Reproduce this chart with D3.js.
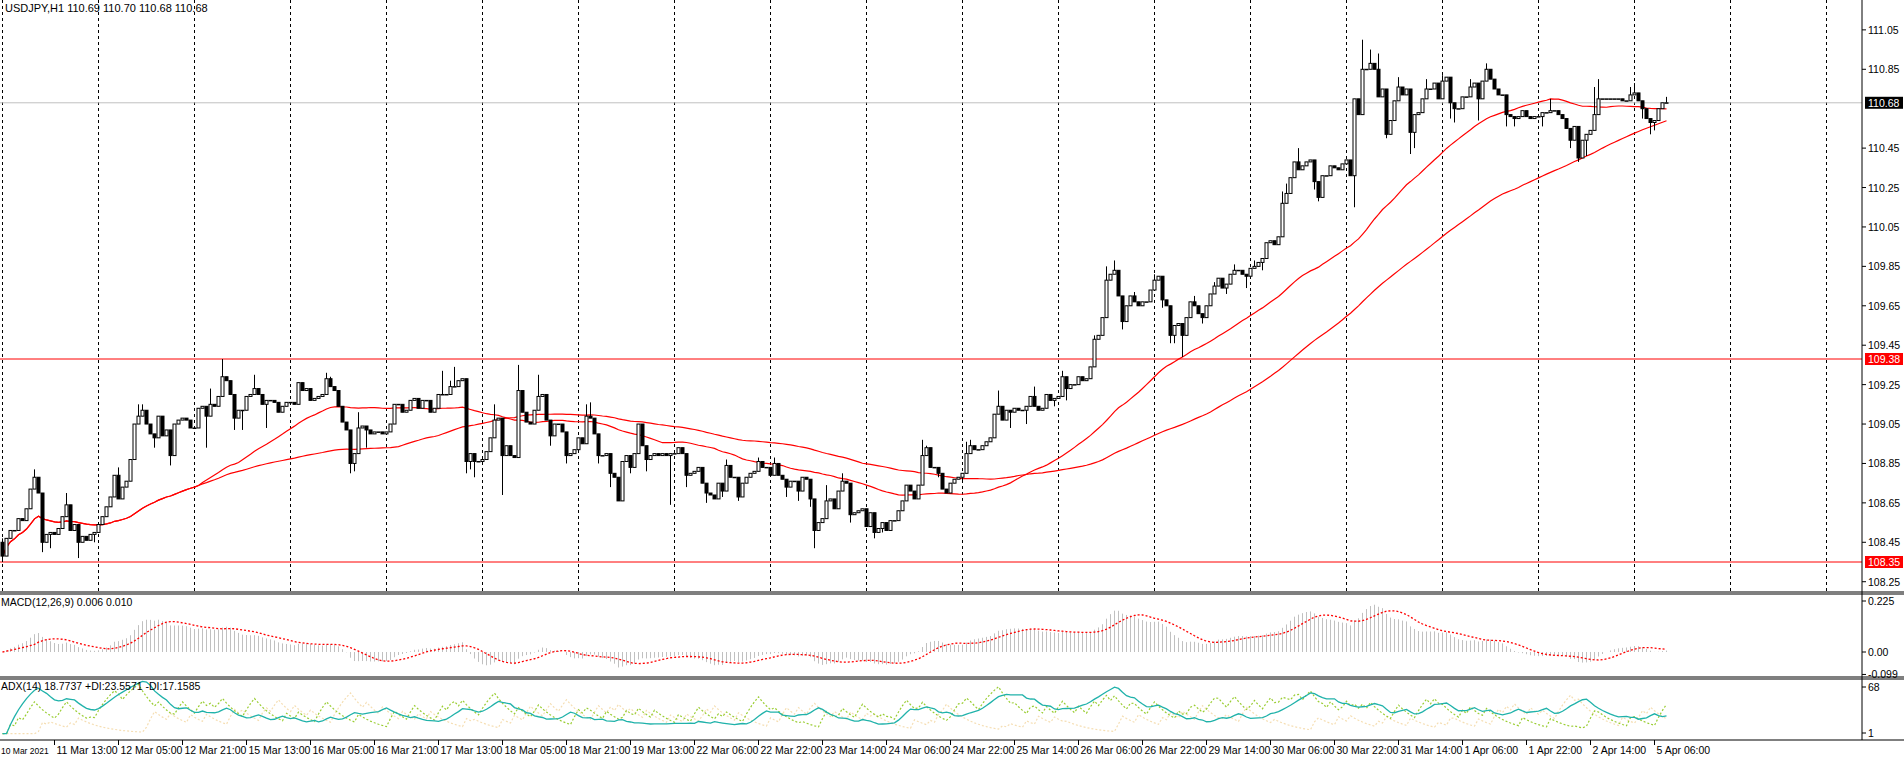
<!DOCTYPE html>
<html>
<head>
<meta charset="utf-8">
<script src="https://cdn.jsdelivr.net/npm/d3@7"></script>
<style>
  body { margin: 0; background: #fff; overflow: hidden; }
  svg { display: block; font-family: 'Liberation Sans', Arial, sans-serif; }
</style>
</head>
<body>
<svg id="chart" width="1904" height="760"></svg>
<script>
// hourly closes, USDJPY H1, 11 Mar 00:00 -> 5 Apr
const closes = [
  108.38,108.47,108.51,108.51,108.57,108.56,108.62,108.72,108.78,108.70,108.45,108.49,108.50,108.49,108.52,108.58,
  108.64,108.51,108.54,108.45,108.48,108.46,108.49,108.50,108.54,108.58,108.63,108.68,108.79,108.67,108.73,108.76,
  108.87,109.05,109.09,109.12,109.05,109.00,108.98,109.09,108.99,109.02,108.89,109.05,109.07,109.08,109.07,109.03,
  109.03,109.13,109.14,109.09,109.15,109.14,109.19,109.29,109.27,109.20,109.08,109.12,109.12,109.19,109.20,109.23,
  109.20,109.15,109.17,109.17,109.16,109.11,109.14,109.16,109.16,109.15,109.26,109.22,109.23,109.17,109.18,109.19,
  109.20,109.28,109.24,109.22,109.14,109.06,109.02,108.85,108.90,109.03,109.04,109.02,109.00,109.01,109.01,109.00,
  109.01,109.05,109.15,109.15,109.11,109.12,109.17,109.18,109.13,109.17,109.17,109.11,109.13,109.20,109.20,109.20,
  109.24,109.24,109.27,109.28,108.86,108.90,108.86,108.86,108.87,108.91,108.98,109.07,109.08,108.89,108.94,108.89,
  108.88,109.22,109.11,109.06,109.05,109.12,109.19,109.20,109.07,108.99,109.05,109.05,109.01,108.89,108.90,108.92,
  108.98,108.95,109.09,109.08,109.00,108.89,108.89,108.90,108.80,108.78,108.66,108.86,108.89,108.83,108.90,109.05,
  108.94,108.87,108.89,108.90,108.89,108.90,108.89,108.90,108.90,108.93,108.90,108.79,108.80,108.81,108.83,108.75,
  108.70,108.69,108.67,108.75,108.71,108.84,108.78,108.78,108.68,108.75,108.78,108.80,108.81,108.86,108.83,108.83,
  108.79,108.85,108.79,108.77,108.73,108.76,108.76,108.71,108.78,108.77,108.67,108.51,108.55,108.57,108.66,108.67,
  108.62,108.71,108.76,108.75,108.59,108.60,108.61,108.62,108.53,108.60,108.50,108.52,108.55,108.51,108.56,108.56,
  108.61,108.66,108.74,108.71,108.67,108.74,108.89,108.93,108.83,108.83,108.80,108.72,108.70,108.75,108.77,108.78,
  108.80,108.90,108.94,108.92,108.92,108.94,108.96,108.98,109.10,109.14,109.07,109.12,109.11,109.13,109.12,109.12,
  109.14,109.19,109.14,109.12,109.13,109.20,109.17,109.18,109.19,109.29,109.23,109.25,109.25,109.29,109.27,109.28,
  109.34,109.48,109.50,109.59,109.78,109.81,109.83,109.70,109.57,109.65,109.70,109.67,109.65,109.67,109.67,109.73,
  109.78,109.80,109.68,109.65,109.50,109.55,109.56,109.50,109.59,109.67,109.65,109.61,109.59,109.65,109.71,109.75,
  109.79,109.74,109.76,109.81,109.83,109.83,109.81,109.80,109.84,109.85,109.87,109.89,109.97,109.98,109.96,110.00,
  110.17,110.22,110.30,110.38,110.34,110.36,110.38,110.39,110.28,110.20,110.31,110.31,110.36,110.35,110.34,110.37,
  110.39,110.31,110.70,110.62,110.85,110.85,110.88,110.85,110.71,110.75,110.52,110.59,110.69,110.76,110.72,110.75,
  110.53,110.62,110.63,110.70,110.75,110.75,110.78,110.70,110.79,110.81,110.68,110.65,110.65,110.71,110.71,110.76,
  110.78,110.70,110.79,110.85,110.80,110.75,110.72,110.72,110.62,110.61,110.60,110.61,110.64,110.61,110.60,110.61,
  110.61,110.63,110.63,110.64,110.64,110.62,110.60,110.55,110.49,110.56,110.40,110.49,110.52,110.54,110.62,110.70,
  110.70,110.70,110.70,110.70,110.70,110.69,110.69,110.72,110.73,110.69,110.65,110.60,110.58,110.59,110.65,110.68,
  110.68
];
const firstOpen = 108.45;

// notable wicks [bar, price]
const highWicks = [
  [0,108.47],[8,108.82],[16,108.70],[29,108.83],[34,109.15],[35,109.15],[52,109.23],[55,109.38],[63,109.30],
  [81,109.31],[82,109.29],[89,109.11],[110,109.32],[112,109.27],[113,109.34],[123,109.15],[129,109.35],
  [134,109.30],[146,109.15],[147,109.16],[160,109.03],[170,108.92],[181,108.87],[189,108.88],[193,108.88],
  [206,108.74],[210,108.80],[230,108.97],[231,108.94],[241,108.96],[242,108.97],[249,109.22],[258,109.24],
  [265,109.32],[273,109.50],[276,109.85],[278,109.88],[283,109.72],[288,109.81],[298,109.70],[303,109.77],
  [308,109.86],[313,109.88],[320,110.23],[321,110.27],[324,110.45],[340,111.00],[342,110.95],[344,110.93],
  [349,110.81],[356,110.80],[360,110.82],[367,110.80],[371,110.88],[387,110.70],[398,110.76],[399,110.80],
  [407,110.76],[408,110.78],[416,110.71]
];
const lowWicks = [
  [0,108.35],[10,108.40],[12,108.42],[19,108.37],[23,108.45],[30,108.68],[38,108.93],[42,108.84],[51,108.93],
  [58,109.02],[60,109.02],[66,109.03],[87,108.80],[88,108.81],[91,108.93],[116,108.80],[117,108.82],
  [118,108.78],[125,108.69],[137,108.94],[141,108.85],[149,108.85],[152,108.73],[154,108.68],[157,108.80],
  [161,108.81],[167,108.64],[171,108.73],[176,108.65],[180,108.68],[184,108.66],[196,108.68],[199,108.66],
  [202,108.63],[203,108.42],[212,108.55],[218,108.47],[220,108.50],[234,108.78],[240,108.76],[252,109.03],
  [256,109.05],[263,109.14],[266,109.17],[280,109.53],[290,109.64],[292,109.46],[293,109.46],[295,109.39],
  [300,109.56],[306,109.71],[311,109.74],[315,109.83],[328,110.24],[329,110.18],[338,110.15],[346,110.50],
  [352,110.42],[353,110.45],[362,110.60],[363,110.58],[369,110.59],[376,110.56],[378,110.56],[385,110.56],
  [392,110.45],[394,110.38],[396,110.41],[410,110.60],[412,110.52],[413,110.54]
];

const priceTicks = [111.05,110.85,110.45,110.25,110.05,109.85,109.65,109.45,109.25,109.05,108.85,108.65,108.45,108.25];
const levels = [109.38, 108.35];
const lastPrice = 110.68;
const timeLabels = ['10 Mar 2021','11 Mar 13:00','12 Mar 05:00','12 Mar 21:00','15 Mar 13:00','16 Mar 05:00',
  '16 Mar 21:00','17 Mar 13:00','18 Mar 05:00','18 Mar 21:00','19 Mar 13:00','22 Mar 06:00','22 Mar 22:00',
  '23 Mar 14:00','24 Mar 06:00','24 Mar 22:00','25 Mar 14:00','26 Mar 06:00','26 Mar 22:00','29 Mar 14:00',
  '30 Mar 06:00','30 Mar 22:00','31 Mar 14:00','1 Apr 06:00','1 Apr 22:00','2 Apr 14:00','5 Apr 06:00'];
const macdTicks = [0.225, 0.00, -0.099];
const adxTicks = [68, 1];

// build candles
const hiMap = new Map(highWicks), loMap = new Map(lowWicks);
const bars = closes.map((c, i) => {
  const o = i === 0 ? firstOpen : closes[i - 1];
  const h = Math.max(o, c, hiMap.get(i) ?? -Infinity);
  const l = Math.min(o, c, loMap.get(i) ?? Infinity);
  return { i, o, h, l, c };
});

const W = 1904, axisX = 1862;
const svg = d3.select('#chart');
const x = d3.scaleLinear().domain([0, 1]).range([2.5, 6.5]);
const y = d3.scaleLinear().domain([108.35, 109.38]).range([562, 359]);
const yM = d3.scaleLinear().domain([0, 0.225]).range([652, 601]);
const yA = d3.scaleLinear().domain([1, 68]).range([733, 687]);

// indicators
const sma = (arr, n) => arr.map((_, i) => d3.mean(arr.slice(Math.max(0, i - n + 1), i + 1)));
const ema = (arr, n) => { const k = 2 / (n + 1); let e = arr[0]; return arr.map(v => (e = v * k + e * (1 - k))); };
const e12 = ema(closes, 12), e26 = ema(closes, 26);
const macd = closes.map((_, i) => e12[i] - e26[i]);
const signal = sma(macd, 9);
const ma50 = sma(closes, 50), ma100 = sma(closes, 100);

// ADX(14), MT4 style (EMA smoothing)
const pDM = [0], mDM = [0], tr = [bars[0].h - bars[0].l];
for (let i = 1; i < bars.length; i++) {
  const up = bars[i].h - bars[i - 1].h, dn = bars[i - 1].l - bars[i].l;
  pDM.push(up > dn && up > 0 ? up : 0);
  mDM.push(dn > up && dn > 0 ? dn : 0);
  tr.push(Math.max(bars[i].h - bars[i].l, Math.abs(bars[i].h - bars[i - 1].c), Math.abs(bars[i].l - bars[i - 1].c)));
}
const pRaw = pDM.map((v, i) => tr[i] ? 100 * v / tr[i] : 0), mRaw = mDM.map((v, i) => tr[i] ? 100 * v / tr[i] : 0);
const pDI = ema(pRaw, 14), mDI = ema(mRaw, 14);
const dx = pDI.map((p, i) => 100 * Math.abs(p - mDI[i]) / Math.max(p + mDI[i], 1e-9));
const adx = ema(dx, 14);

// main panel
const main = svg.append('g');
main.append('defs').append('clipPath').attr('id', 'mclip').append('rect').attr('x', 0).attr('y', 0).attr('width', axisX).attr('height', 591);
const gMain = main.append('g').attr('clip-path', 'url(#mclip)');

d3.range(0, 20).forEach(k => {
  gMain.append('line').attr('x1', 2.5 + 96 * k).attr('x2', 2.5 + 96 * k).attr('y1', 0).attr('y2', 591)
    .attr('stroke', '#000').attr('stroke-dasharray', '3,3');
});

gMain.append('line').attr('x1', 0).attr('x2', axisX).attr('y1', y(lastPrice)).attr('y2', y(lastPrice)).attr('stroke', '#c0c0c0');
levels.forEach(v => gMain.append('line').attr('x1', 0).attr('x2', axisX).attr('y1', y(v)).attr('y2', y(v)).attr('stroke', '#ff0000'));

const line = (ys, arr) => d3.line().x((_, i) => x(i)).y(d => ys(d))(arr);
gMain.append('path').attr('d', line(y, ma50)).attr('fill', 'none').attr('stroke', '#ff0000').attr('stroke-width', 1.2);
gMain.append('path').attr('d', line(y, ma100)).attr('fill', 'none').attr('stroke', '#ff0000').attr('stroke-width', 1.2);

const cg = gMain.selectAll('g.bar').data(bars).enter().append('g');
cg.append('line').attr('x1', d => x(d.i)).attr('x2', d => x(d.i)).attr('y1', d => y(d.h)).attr('y2', d => y(d.l)).attr('stroke', '#000');
cg.append('rect')
  .attr('x', d => x(d.i) - 1.5).attr('width', 3)
  .attr('y', d => y(Math.max(d.o, d.c)))
  .attr('height', d => Math.max(0.5, Math.abs(y(d.o) - y(d.c))))
  .attr('fill', d => d.c >= d.o ? '#fff' : '#000').attr('stroke', '#000').attr('stroke-width', 1);

main.append('text').attr('x', 5).attr('y', 12).attr('font-size', 11).text('USDJPY,H1  110.69 110.70 110.68 110.68');

// price axis
const ax = svg.append('g').attr('font-size', 10.5);
ax.append('line').attr('x1', axisX).attr('x2', axisX).attr('y1', 0).attr('y2', 740).attr('stroke', '#000');
priceTicks.forEach(v => {
  ax.append('line').attr('x1', axisX).attr('x2', axisX + 4).attr('y1', y(v)).attr('y2', y(v)).attr('stroke', '#000');
  ax.append('text').attr('x', axisX + 6).attr('y', y(v) + 4).text(v.toFixed(2));
});
levels.forEach(v => {
  ax.append('rect').attr('x', axisX + 3).attr('y', y(v) - 6).attr('width', 38).attr('height', 12).attr('fill', '#ff0000');
  ax.append('text').attr('x', axisX + 6).attr('y', y(v) + 4).attr('fill', '#fff').text(v.toFixed(2));
});
ax.append('rect').attr('x', axisX + 3).attr('y', y(lastPrice) - 6).attr('width', 38).attr('height', 12).attr('fill', '#000');
ax.append('text').attr('x', axisX + 6).attr('y', y(lastPrice) + 4).attr('fill', '#fff').text(lastPrice.toFixed(2));

// separators
[592, 594, 677, 679, 740].forEach(v => svg.append('line').attr('x1', 0).attr('x2', W).attr('y1', v).attr('y2', v).attr('stroke', '#000').attr('stroke-width', v === 740 ? 1 : 1.2));

// MACD panel
const gM = svg.append('g');
gM.selectAll('line.h').data(macd).enter().append('line')
  .attr('x1', (_, i) => x(i)).attr('x2', (_, i) => x(i)).attr('y1', yM(0)).attr('y2', d => yM(d))
  .attr('stroke', '#c0c0c0');
gM.append('path').attr('d', line(yM, signal)).attr('fill', 'none').attr('stroke', '#ff0000').attr('stroke-width', 1.3).attr('stroke-dasharray', '2,2');
gM.append('text').attr('x', 1).attr('y', 606).attr('font-size', 10.5).text('MACD(12,26,9) 0.006 0.010');
macdTicks.forEach(v => {
  gM.append('line').attr('x1', axisX).attr('x2', axisX + 4).attr('y1', yM(v)).attr('y2', yM(v)).attr('stroke', '#000');
  gM.append('text').attr('x', axisX + 6).attr('y', yM(v) + 4).attr('font-size', 10.5).text(v === 0 ? '0.00' : v);
});

// ADX panel
const gA = svg.append('g');
gA.append('path').attr('d', line(yA, mDI)).attr('fill', 'none').attr('stroke', '#f5deb3').attr('stroke-width', 1.2).attr('stroke-dasharray', '2,2');
gA.append('path').attr('d', line(yA, pDI)).attr('fill', 'none').attr('stroke', '#9acd32').attr('stroke-width', 1.2).attr('stroke-dasharray', '2,2');
gA.append('path').attr('d', line(yA, adx)).attr('fill', 'none').attr('stroke', '#20b2aa').attr('stroke-width', 1.3);
gA.append('text').attr('x', 1).attr('y', 690).attr('font-size', 10.5).text('ADX(14) 18.7737 +DI:23.5571 -DI:17.1585');
adxTicks.forEach(v => {
  gA.append('line').attr('x1', axisX).attr('x2', axisX + 4).attr('y1', yA(v)).attr('y2', yA(v)).attr('stroke', '#000');
  gA.append('text').attr('x', axisX + 6).attr('y', yA(v) + 4).attr('font-size', 10.5).text(v);
});

// time axis
timeLabels.forEach((t, k) => {
  const px = x(-3 + 16 * k);
  svg.append('line').attr('x1', px).attr('x2', px).attr('y1', 740).attr('y2', 745).attr('stroke', '#000');
  svg.append('text').attr('x', k === 0 ? 1 : px + 2).attr('y', 754).attr('font-size', k === 0 ? 8.5 : 10.5).text(t);
});
</script>
</body>
</html>
